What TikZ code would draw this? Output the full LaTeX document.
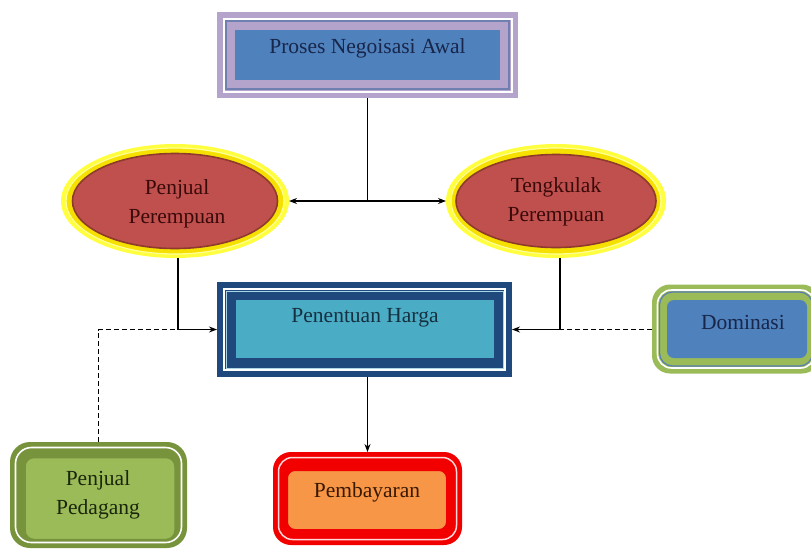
\documentclass[tikz,border=0pt]{standalone}
\usepackage{fontspec}
\setmainfont{Liberation Serif}
\usetikzlibrary{shapes.geometric,arrows.meta}
\definecolor{lav}{HTML}{B4A3CA}
\definecolor{topline}{HTML}{6F7FB0}
\definecolor{bluefill}{HTML}{4F81BD}
\definecolor{navytext}{HTML}{17264A}
\definecolor{darkblue}{HTML}{1F497D}
\definecolor{lightline}{HTML}{A9D6E5}
\definecolor{cyanfill}{HTML}{4BACC6}
\definecolor{ctrtext}{HTML}{15303F}
\definecolor{yglow}{HTML}{FFFF40}
\definecolor{yband}{HTML}{F5E000}
\definecolor{ylight}{HTML}{FFFF99}
\definecolor{brownline}{HTML}{8E3B2E}
\definecolor{redfill}{HTML}{C0504D}
\definecolor{redtext}{HTML}{3A0A0A}
\definecolor{payred}{HTML}{F20000}
\definecolor{orangefill}{HTML}{F79646}
\definecolor{paytext}{HTML}{3A1800}
\definecolor{darkgreen}{HTML}{77933C}
\definecolor{greenfill}{HTML}{9BBB59}
\definecolor{greentext}{HTML}{1A260A}
\definecolor{steelline}{HTML}{5B7DB1}
\begin{document}
\begin{tikzpicture}[x=1pt,y=-1pt,
  rbox/.style={rectangle, inner sep=0pt, outer sep=0pt},
  oval/.style={ellipse, inner sep=0pt, outer sep=0pt},
  lbl/.style={font=\fontsize{21.5}{29}\selectfont, align=center, inner sep=0pt},
  conn/.style={line width=1.1pt, draw=black},
  arr/.style={conn, -{Stealth[length=8pt,width=6pt]}},
  arrtwo/.style={conn, {Stealth[length=8pt,width=6pt]}-{Stealth[length=8pt,width=6pt]}},
  dsh/.style={line width=0.9pt, draw=black, dash pattern=on 5pt off 3pt}]
\useasboundingbox (0,0) rectangle (811,549);
\clip (0,0) rectangle (811,549);
\fill[white] (0,0) rectangle (811,549);

% Top box
\node[rbox, fill=lav, minimum width=301, minimum height=86] (top) at (367.5,55) {};
\node[rbox, draw=white, line width=2pt, minimum width=288, minimum height=73] (topw) at (367.5,55) {};
\node[rbox, draw=topline, line width=2pt, minimum width=283, minimum height=68] (topl) at (367.5,55) {};
\node[rbox, fill=bluefill, minimum width=265, minimum height=50] (topf) at (367.5,55) {};
\node[lbl, text=navytext] (toplbl) at (367.5,48) {Proses Negoisasi Awal};

% Left ellipse
\node[oval, fill=yglow, minimum width=228, minimum height=114] (lel) at (175,201) {};
\node[oval, draw=ylight, line width=1.2pt, fill=yband, minimum width=218, minimum height=106] (lely) at (175,201) {};
\node[oval, draw=brownline, line width=1.6pt, fill=redfill, minimum width=205, minimum height=95] (lelr) at (175,201) {};
\node[lbl, text=redtext] (lellbl) at (177,204) {Penjual\\Perempuan};

% Right ellipse
\node[oval, fill=yglow, minimum width=220, minimum height=114] (rel) at (556,201) {};
\node[oval, draw=ylight, line width=1.2pt, fill=yband, minimum width=210, minimum height=106] (rely) at (556,201) {};
\node[oval, draw=brownline, line width=1.6pt, fill=redfill, minimum width=200, minimum height=93] (relr) at (556,201) {};
\node[lbl, text=redtext] (rellbl) at (556,202) {Tengkulak\\Perempuan};

% Center box
\node[rbox, fill=darkblue, minimum width=295, minimum height=95] (ctr) at (364.5,329.5) {};
\node[rbox, draw=white, line width=2pt, minimum width=281, minimum height=81] (ctrw) at (364.5,329.5) {};
\node[rbox, draw=lightline, line width=1pt, minimum width=277, minimum height=77] (ctrl) at (364.5,329.5) {};
\node[rbox, fill=cyanfill, minimum width=258, minimum height=58] (ctrf) at (364.5,329) {};
\node[lbl, text=ctrtext] (ctrlbl) at (365,318) {Penentuan Harga};

% Dominasi
\node[rbox, fill=greenfill, rounded corners=18pt, minimum width=168, minimum height=89] (dom) at (736,329) {};
\node[rbox, draw=white, line width=1.6pt, rounded corners=14pt, minimum width=157, minimum height=78] (domw) at (736,329) {};
\node[rbox, draw=steelline, line width=1.2pt, rounded corners=13pt, minimum width=153, minimum height=74] (doml) at (736,329) {};
\node[rbox, fill=bluefill, rounded corners=7pt, minimum width=140, minimum height=58] (domf) at (737,329) {};
\node[lbl, text=navytext] (domlbl) at (743,322) {Dominasi};

% Penjual Pedagang
\node[rbox, fill=darkgreen, rounded corners=20pt, minimum width=177, minimum height=106] (pp) at (98.5,495) {};
\node[rbox, draw=white, line width=1.6pt, rounded corners=16pt, minimum width=166, minimum height=95] (ppw) at (98.5,495) {};
\node[rbox, fill=greenfill, draw=darkgreen, line width=1.5pt, rounded corners=9pt, minimum width=150, minimum height=82] (ppf) at (100,498.5) {};
\node[lbl, text=greentext] (pplbl) at (98,495) {Penjual\\Pedagang};

% Pembayaran
\node[rbox, fill=payred, rounded corners=18pt, minimum width=189, minimum height=93] (pay) at (367.5,498.5) {};
\node[rbox, draw=white!85!red, line width=1.5pt, rounded corners=14pt, minimum width=178, minimum height=82] (payw) at (367.5,498.5) {};
\node[rbox, fill=orangefill, draw=payred, line width=2pt, rounded corners=8pt, minimum width=160, minimum height=60] (payf) at (367,500) {};
\node[lbl, text=paytext] (paylbl) at (367,492) {Pembayaran};

% Connectors
\draw[conn] (top.south) -- (top.south |- lel.east);
\draw[arrtwo] (lel.east) -- (rel.west);
\draw[arr] ([xshift=3pt]lel.south) |- (ctr.west);
\draw[arr] ([xshift=4pt]rel.south) |- (ctr.east);
\draw[dsh] (pp.north) |- ([xshift=3pt]lel.south |- ctr.west);
\draw[dsh] (dom.west) -- ([xshift=4pt]rel.south |- dom.west);
\draw[arr] (pay.north |- ctr.south) -- (pay.north);
\end{tikzpicture}
\end{document}
